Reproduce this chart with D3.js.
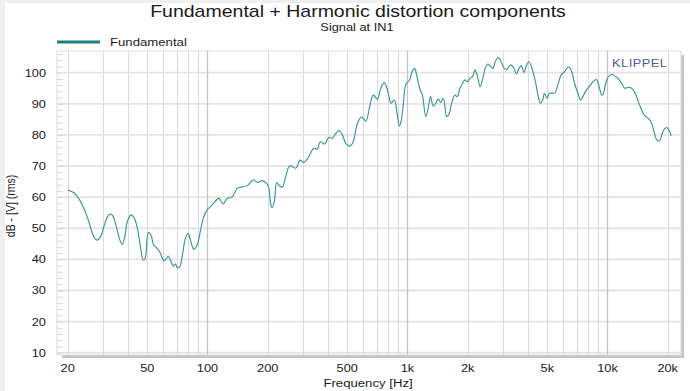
<!DOCTYPE html>
<html><head><meta charset="utf-8">
<script src="https://cdn.jsdelivr.net/npm/d3@7/dist/d3.min.js"></script>
<style>body{margin:0;background:#fff}svg{display:block}text{font-family:"Liberation Sans",Arial,sans-serif}</style>
</head><body>
<script>
// ---- data ----
const freqs = [20,21.5,22.7,24.1,25.5,27.0,28.0,29.2,30.3,31.5,32.7,33.7,35.0,36.7,37.5,38.6,39.7,41.5,43.1,44.8,46.2,47.7,48.8,49.9,50.8,52.2,53.8,55.9,58.2,60.5,62.4,63.6,65.4,67.4,69.2,70.5,72.6,74.7,77.6,80.1,82.2,85.4,88.8,92.3,95.8,99.6,105.5,113.9,119.8,125.5,132.9,140.8,149.2,158,169.4,177.4,188,197.6,202.9,206.8,210.7,216.4,221.6,227.6,236.7,246,256.9,265.9,276.5,291.1,302.8,320.7,340,353,367,385,404,421,433,455,473,491,515,535,559,585,601,620,645,674,707,735,764,789,811,827,860,887,911,928,949,982,1021,1054,1085,1116,1150,1187,1234,1269,1303,1345,1386,1425,1465,1511,1570,1619,1663,1727,1775,1830,1887,1939,1993,2055,2120,2176,2237,2307,2381,2447,2516,2594,2676,2747,2834,2911,3049,3146,3269,3373,3506,3605,3705,3822,3911,4049,4213,4380,4507,4616,4742,4837,4987,5126,5325,5472,5646,5866,6098,6386,6583,6843,7112,7334,7534,7831,8140,8460,8793,9080,9360,9500,9800,10090,10480,10880,11300,11760,12220,12700,13200,13720,14260,14820,15400,16000,16640,17100,17630,18180,18680,19200,19780,20340,20810];
const fundamentalDb = [62.3,61.4,59.6,56.4,52.1,47.3,46.2,47.3,50.5,53.5,54.6,53.9,50.5,45.7,44.8,47.3,52.1,54.3,53.2,49.4,44.1,39.8,40.3,46.8,48.6,47.8,44.6,43.6,41.9,39.6,40.3,41.1,39.6,37.9,38.5,37.4,37.6,40.9,46.8,48.4,46.2,43.2,44.6,49.4,53.7,55.9,57.5,59.6,57.8,59.6,60.1,62.8,63.3,63.7,65.5,64.8,65.3,64.4,62.8,58.0,56.6,59.1,64.6,63.9,63.2,66.6,70.0,69.8,69.3,71.9,71.1,73.0,75.7,75.4,77.8,77.1,79.2,78.9,80.0,81.4,80.0,77.3,76.4,77.8,83.2,85.7,85.3,84.5,88.6,92.8,91.5,95.0,96.8,95.0,91.8,90.2,91.2,86.9,82.9,84.3,88.6,96.3,97.5,100.3,101.4,98.7,95.0,92.8,85.9,88.6,92.3,89.3,90.2,91.5,90.4,91.8,85.9,87.0,90.2,92.8,92.3,95.0,96.6,97.7,97.1,98.2,98.9,100.9,98.9,95.5,98.2,101.4,102.8,102.2,101.4,103.5,104.9,104.1,101.4,101.1,102.5,101.9,99.6,101.4,102.2,100.0,101.9,103.5,100.9,96.6,92.3,90.2,91.2,93.4,91.8,93.4,93.4,93.6,96.0,99.3,100.3,101.9,100.9,96.6,93.4,91.2,92.3,94.4,95.7,97.1,97.8,95.5,92.8,93.0,96.6,98.7,99.5,98.9,98.2,96.6,95.0,95.3,95.0,93.6,90.7,88.0,86.1,85.3,83.7,81.0,78.4,78.1,80.0,81.8,82.4,81.4,79.7];
const xTickValues = [20,50,100,200,500,1000,2000,5000,10000,20000];
const xTickLabels = ["20","50","100","200","500","1k","2k","5k","10k","20k"];
const gridFreqs = [20,30,40,50,60,70,80,90,100,200,300,400,500,600,700,800,900,1000,2000,3000,4000,5000,6000,7000,8000,9000,10000,20000];
const yTickValues = [10,20,30,40,50,60,70,80,90,100];
const seriesName = "Fundamental";

// ---- layout ----
const W = 690, H = 391;
const box = {l:57, r:681, t:51, b:355};
const SX = 1.22; // horizontal text stretch of the reference
const svg = d3.select("body").append("svg").attr("width",W).attr("height",H);

const x = d3.scaleLog().domain([20,20000]).range([67.7,667.7]);
const y = d3.scaleLinear().domain([10,100]).range([352.7,72.7]);

function stretchText(g, tx, ty, str, size, anchor, fill){
  return g.append("text").attr("transform",`translate(${tx},${ty}) scale(${SX},1)`)
    .attr("text-anchor",anchor).attr("font-size",size).attr("fill",fill||"#222").text(str);
}

// page frame
svg.append("rect").attr("x",0).attr("y",0).attr("width",W).attr("height",H).attr("fill","#efefef");
svg.append("rect").attr("x",5).attr("y",3).attr("width",W-5).attr("height",H-3).attr("fill","#fff");

// shadow bars
svg.append("rect").attr("x",62).attr("y",box.b).attr("width",box.r+3-62).attr("height",3).attr("fill","#c4c4c4");
svg.append("rect").attr("x",box.r).attr("y",55).attr("width",3).attr("height",box.b+3-55).attr("fill","#c4c4c4");

// plot box
svg.append("rect").attr("x",box.l).attr("y",box.t).attr("width",box.r-box.l).attr("height",box.b-box.t)
  .attr("fill","#fff").attr("stroke","#dcdcdc").attr("stroke-width",1);

// horizontal grid
svg.append("g").selectAll("line").data(yTickValues).join("line")
  .attr("x1",box.l).attr("x2",box.r).attr("y1",d=>y(d)).attr("y2",d=>y(d))
  .attr("stroke","#e4e4e4").attr("stroke-width",1.8);

// minor ticks left
svg.append("g").selectAll("line").data(d3.range(10,107,2)).join("line")
  .attr("x1",box.l).attr("x2",box.l+6).attr("y1",d=>y(d)+0.5).attr("y2",d=>y(d)+0.5)
  .attr("stroke","#d8d8d8").attr("stroke-width",1);

// vertical grid
svg.append("g").selectAll("line").data(gridFreqs).join("line")
  .attr("x1",d=>Math.round(x(d))+0.5).attr("x2",d=>Math.round(x(d))+0.5)
  .attr("y1",box.t).attr("y2",box.b)
  .attr("stroke",d=>[100,1000,10000].includes(d)?"#c6c6c6":"#dadada").attr("stroke-width",d=>[100,1000,10000].includes(d)?1.3:1);

// curve
const line = d3.line().x(d=>x(d[0])).y(d=>y(d[1])).curve(d3.curveCatmullRom.alpha(0.5));
svg.append("path").datum(freqs.map((f,i)=>[f,fundamentalDb[i]]))
  .attr("d",line).attr("fill","none").attr("stroke","#329292").attr("stroke-width",1.1);

// axes labels
const g = svg.append("g");
yTickValues.forEach(v=>stretchText(g,46,y(v)+4,String(v),10.5,"end","#1a1a1a"));
xTickValues.forEach((v,i)=>stretchText(g,x(v),372,xTickLabels[i],10.5,"middle","#1a1a1a"));
stretchText(g,368,387,"Frequency [Hz]",10.8,"middle","#1a1a1a");
g.append("text").attr("transform","translate(15,206) rotate(-90) scale(1,"+SX+")")
  .attr("text-anchor","middle").attr("font-size",10.5).attr("fill","#1a1a1a").text("dB - [V] (rms)");

// titles
stretchText(g,358,17,"Fundamental + Harmonic distortion components",16,"middle","#1a1a1a");
stretchText(g,357,30.5,"Signal at IN1",10.5,"middle","#1a1a1a");

// legend
svg.append("line").attr("x1",57).attr("x2",100).attr("y1",42).attr("y2",42).attr("stroke","#1f7f7f").attr("stroke-width",3);
stretchText(g,110,45.5,seriesName,10.8,"start","#1a1a1a");

// KLIPPEL
stretchText(g,612,67,"KLIPPEL",10.5,"start","#4b5a97").attr("letter-spacing",0.4);
</script>
</body></html>
